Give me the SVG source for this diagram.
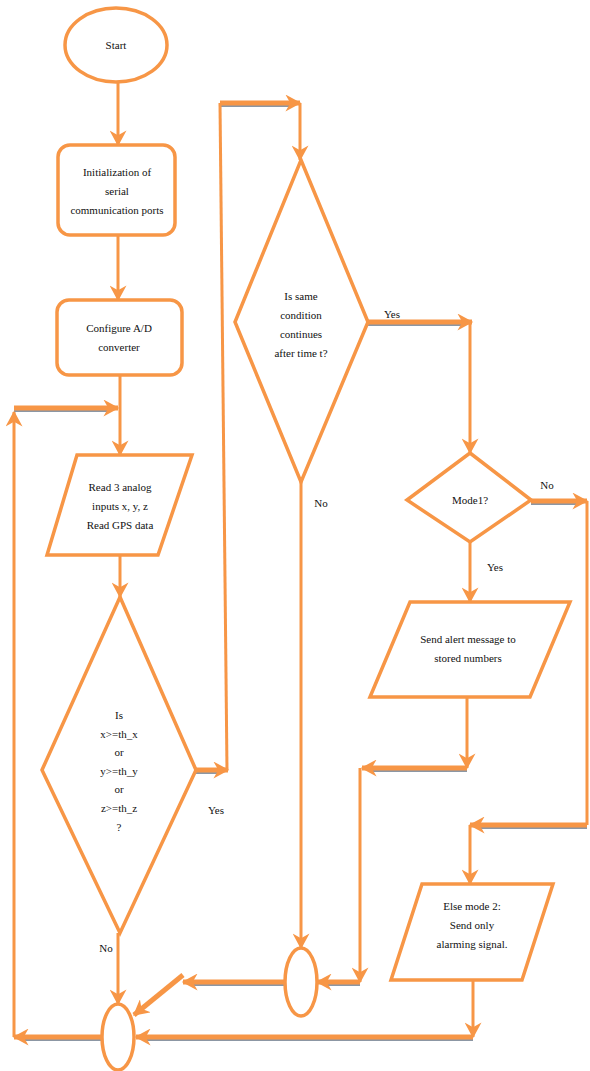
<svg xmlns="http://www.w3.org/2000/svg" width="590" height="1071" viewBox="0 0 590 1071">
<style>
.shape{fill:#fff;stroke:#F79646;stroke-width:3.5}
.thin{fill:none;stroke:#F79646;stroke-width:3}
.thick{fill:none;stroke:#F79646;stroke-width:5}
.shd{fill:none;stroke:#8C97A4;stroke-width:4}
text{font-family:"Liberation Serif","Times New Roman",serif;font-size:11px;fill:#111;text-anchor:middle}
</style>
<defs>
<marker id="ah" markerUnits="userSpaceOnUse" markerWidth="17" markerHeight="17" viewBox="0 0 14 14" refX="12" refY="7" orient="auto">
<path d="M0,0 L13,7 L0,14 L4,7 z" fill="#F79646"/>
</marker>
</defs>
<rect width="590" height="1071" fill="#fff"/>

<g id="connectors">
<g class="shd" transform="translate(0,2)">
<path d="M14,408 L110,408"/>
<path d="M196,770 L220,770"/>
<path d="M220,103 L292,103"/>
<path d="M368,322 L464,322"/>
<path d="M531,501 L579,501"/>
<path d="M587,825 L478,825"/>
<path d="M467,768 L370,768"/>
<path d="M360,982 L325,982"/>
<path d="M285,982 L191,982"/>
<path d="M473,1037 L145,1037"/>
<path d="M102,1037 L22,1037"/>
</g>
<path class="thin" d="M118,82 L118,145" marker-end="url(#ah)"/>
<path class="thin" d="M118,235 L118,300" marker-end="url(#ah)"/>
<path class="thin" d="M120,375 L120,455" marker-end="url(#ah)"/>
<path class="thin" d="M120,555 L120,597" marker-end="url(#ah)"/>
<path class="thin" d="M14,1037 L14,412" marker-end="url(#ah)"/>
<path class="thick" d="M14,408 L118,408" marker-end="url(#ah)"/>
<path class="thick" d="M196,770 L228,770" marker-end="url(#ah)"/>
<path class="thin" d="M227,770 L220,103"/>
<path class="thick" d="M220,103 L300,103" marker-end="url(#ah)"/>
<path class="thin" d="M300,103 L300,160" marker-end="url(#ah)"/>
<path class="thick" d="M368,322 L472,322" marker-end="url(#ah)"/>
<path class="thin" d="M470,322 L470,453" marker-end="url(#ah)"/>
<path class="thick" d="M531,501 L587,501" marker-end="url(#ah)"/>
<path class="thin" d="M587,501 L587,825"/>
<path class="thick" d="M587,825 L470,825" marker-end="url(#ah)"/>
<path class="thin" d="M470,825 L470,884" marker-end="url(#ah)"/>
<path class="thin" d="M470,542 L470,602" marker-end="url(#ah)"/>
<path class="thin" d="M467,697 L467,768" marker-end="url(#ah)"/>
<path class="thick" d="M467,768 L362,768" marker-end="url(#ah)"/>
<path class="thin" d="M360,768 L360,982" marker-end="url(#ah)"/>
<path class="thick" d="M360,982 L317,982" marker-end="url(#ah)"/>
<path class="thin" d="M301,482 L301,948" marker-end="url(#ah)"/>
<path class="thick" d="M285,982 L183,982" marker-end="url(#ah)"/>
<path class="thick" d="M183,975 L134,1015" marker-end="url(#ah)"/>
<path class="thin" d="M118,933 L118,1004" marker-end="url(#ah)"/>
<path class="thin" d="M473,980 L473,1037" marker-end="url(#ah)"/>
<path class="thick" d="M473,1037 L136,1037" marker-end="url(#ah)"/>
<path class="thick" d="M102,1037 L14,1037" marker-end="url(#ah)"/>
<text x="216" y="814">Yes</text>
<text x="392" y="318">Yes</text>
<text x="321" y="507">No</text>
<text x="547" y="489">No</text>
<text x="495" y="571">Yes</text>
<text x="106" y="952">No</text>
</g>

<g id="start">
<ellipse class="shape" cx="116" cy="45" rx="51" ry="37"/>
<text x="116" y="49">Start</text>
</g>

<g id="init">
<rect class="shape" x="58" y="145" width="117" height="90" rx="12"/>
<text x="117" y="176">Initialization of</text>
<text x="117" y="195">serial</text>
<text x="117" y="214">communication ports</text>
</g>

<g id="config">
<rect class="shape" x="57" y="300" width="125" height="75" rx="12"/>
<text x="119" y="332">Configure A/D</text>
<text x="119" y="351">converter</text>
</g>

<g id="read">
<polygon class="shape" points="77,455 192,455 158,555 47,555"/>
<text x="120" y="491">Read 3 analog</text>
<text x="120" y="510">inputs x, y, z</text>
<text x="120" y="529">Read GPS data</text>
</g>

<g id="decision1">
<polygon class="shape" points="120,597 196,770 120,933 42,770"/>
<text x="119" y="719">Is</text>
<text x="119" y="738">x&gt;=th_x</text>
<text x="119" y="756">or</text>
<text x="119" y="775">y&gt;=th_y</text>
<text x="119" y="793">or</text>
<text x="119" y="812">z&gt;=th_z</text>
<text x="119" y="831">?</text>
</g>

<g id="decision2">
<polygon class="shape" points="301,160 368,322 301,482 235,322"/>
<text x="301" y="300">Is same</text>
<text x="301" y="319">condition</text>
<text x="301" y="338">continues</text>
<text x="301" y="357">after time t?</text>
</g>

<g id="mode1">
<polygon class="shape" points="470,453 531,500 470,542 407,500"/>
<text x="470" y="504">Mode1?</text>
</g>

<g id="sendalert">
<polygon class="shape" points="410,602 570,602 530,697 370,697"/>
<text x="468" y="643">Send alert message to</text>
<text x="468" y="662">stored numbers</text>
</g>

<g id="elsemode">
<polygon class="shape" points="422,884 553,884 522,980 391,980"/>
<text x="472" y="910">Else mode 2:</text>
<text x="472" y="929">Send only</text>
<text x="472" y="948">alarming signal.</text>
</g>

<g id="join2">
<ellipse class="shape" cx="301" cy="982" rx="16" ry="34"/>
</g>

<g id="join1">
<ellipse class="shape" cx="118" cy="1037" rx="16" ry="33"/>
</g>
</svg>
